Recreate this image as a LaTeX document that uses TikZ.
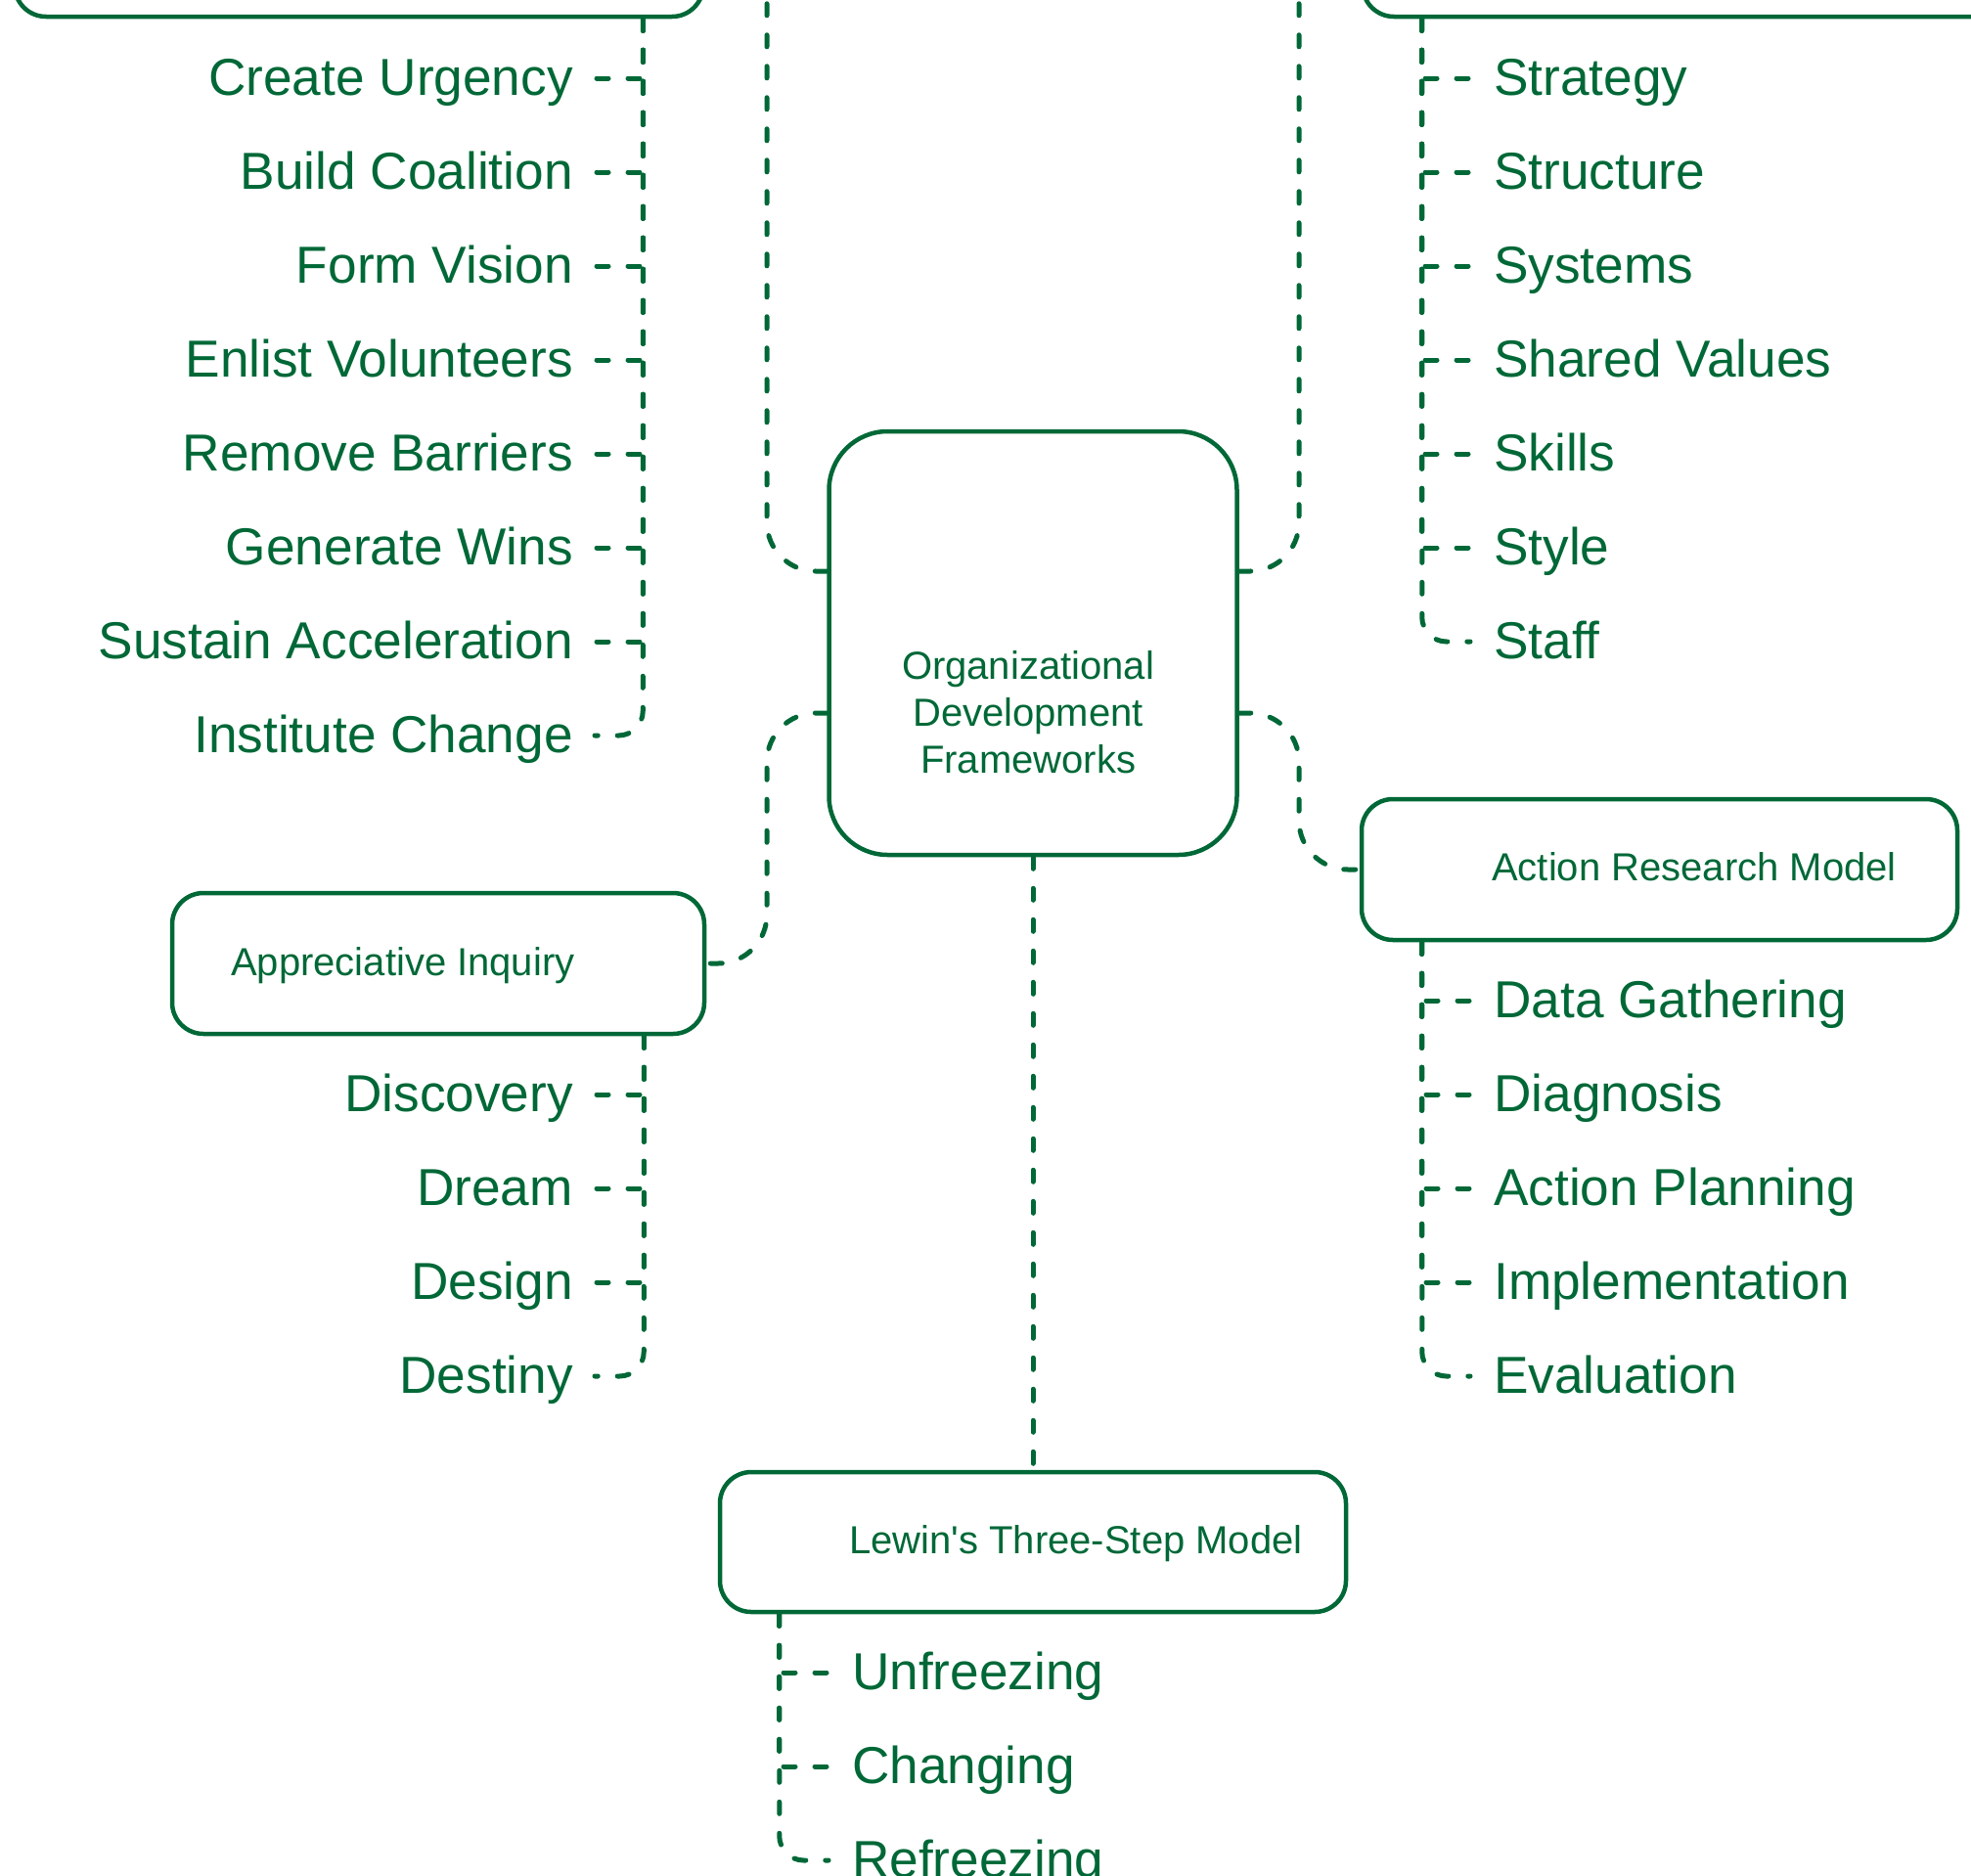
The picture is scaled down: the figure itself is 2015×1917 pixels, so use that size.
\documentclass[tikz,border=0pt]{standalone}
\usepackage{fontspec}
\setmainfont{Liberation Sans}[Ligatures=TeXOff]
\usetikzlibrary{calc}
\definecolor{og}{HTML}{006837}
\begin{document}
\begin{tikzpicture}[x=1pt,y=-1pt,
  box/.style={draw=og, line width=4.5pt, rounded corners=32pt, inner sep=0pt},
  conn/.style={draw=og, line width=5pt, line cap=round, dash pattern=on 12pt off 20pt},
  lastconn/.style={conn, rounded corners=25pt},
  rconn/.style={conn, rounded corners=50pt},
  itemL/.style={text=og, font=\fontsize{53.2}{64}\selectfont, inner sep=0pt, text height=38pt, text depth=0pt, anchor=east},
  itemR/.style={itemL, anchor=west},
  lab/.style={text=og, font=\fontsize{40}{48}\selectfont, inner sep=0pt, anchor=base west}]
\useasboundingbox (0,0) rectangle (2015,1917);
\clip (0,0) rectangle (2015,1917);

% boxes
\node[box, minimum width=704pt, minimum height=144pt] (kotter) at (367,-55) {};
\node[box, minimum width=707pt, minimum height=144pt] (ms) at (1746.5,-55) {};
\node[box, rounded corners=60pt, minimum width=417pt, minimum height=433pt] (root) at (1056,657.5) {};
\node[box, minimum width=544pt, minimum height=144pt] (ai) at (448,985) {};
\node[box, minimum width=609pt, minimum height=144pt] (ar) at (1696.5,889) {};
\node[box, minimum width=640pt, minimum height=143pt] (lw) at (1056,1576.5) {};

% labels
\node[text=og, font=\fontsize{40}{48}\selectfont, inner sep=0pt, align=center, anchor=north] (rootlab) at (1051,665) {Organizational\\Development\\Frameworks};
\node[lab] (ailab) at (236,997) {Appreciative Inquiry};
\node[lab] (arlab) at (1525,900) {Action Research Model};
\node[lab] (lwlab) at (868,1588) {Lewin's Three-Step Model};

% connectors from root
\draw[rconn] ([yshift=73.5pt]root.west) -- (784,584) -- (784,-55) -- (kotter.east);
\draw[rconn] ([yshift=73.5pt]root.east) -- (1328,584) -- (1328,-55) -- (ms.west);
\draw[rconn] ([yshift=-71.5pt]root.west) -- (784,729) -- (784,985) -- (ai.east);
\draw[rconn] ([yshift=-71.5pt]root.east) -- (1328,729) -- (1328,889) -- (ar.west);
\draw[conn] (root.south) -- (lw.north);

% child starts
\coordinate (kd) at ([xshift=-64pt]kotter.south east);
\coordinate (sd) at ([xshift=63pt]ms.south west);
\coordinate (ad) at ([xshift=-64pt]ai.south east);
\coordinate (rd) at ([xshift=64pt]ar.south west);
\coordinate (ld) at ([xshift=63pt]lw.south west);

% Kotter items
\foreach \t [count=\i] in {Create Urgency, Build Coalition, Form Vision, Enlist Volunteers, Remove Barriers, Generate Wins, Sustain Acceleration, Institute Change}
  \node[itemL] (k\i) at (586,{78+96*(\i-1)}) {\t};
\foreach \i in {1,...,7}
  \draw[conn] (kd) |- ([xshift=22pt,yshift=-2pt]k\i.east);
\draw[lastconn] (kd) |- ([xshift=22pt,yshift=-2pt]k8.east);

% 7S items
\foreach \t [count=\i] in {Strategy, Structure, Systems, Shared Values, Skills, Style, Staff}
  \node[itemR] (s\i) at (1527,{78+96*(\i-1)}) {\t};
\foreach \i in {1,...,6}
  \draw[conn] (sd) |- ([xshift=-24pt,yshift=-2pt]s\i.west);
\draw[lastconn] (sd) |- ([xshift=-24pt,yshift=-2pt]s7.west);

% Appreciative Inquiry items
\foreach \t [count=\i] in {Discovery, Dream, Design, Destiny}
  \node[itemL] (a\i) at (586,{1117+96*(\i-1)}) {\t};
\foreach \i in {1,...,3}
  \draw[conn] (ad) |- ([xshift=22pt,yshift=-2pt]a\i.east);
\draw[lastconn] (ad) |- ([xshift=22pt,yshift=-2pt]a4.east);

% Action Research items
\foreach \t [count=\i] in {Data Gathering, Diagnosis, Action Planning, Implementation, Evaluation}
  \node[itemR] (r\i) at (1527,{1021+96*(\i-1)}) {\t};
\foreach \i in {1,...,4}
  \draw[conn] (rd) |- ([xshift=-24pt,yshift=-2pt]r\i.west);
\draw[lastconn] (rd) |- ([xshift=-24pt,yshift=-2pt]r5.west);

% Lewin items
\foreach \t [count=\i] in {Unfreezing, Changing, Refreezing}
  \node[itemR] (l\i) at (871,{1708+96*(\i-1)}) {\t};
\foreach \i in {1,2}
  \draw[conn] (ld) |- ([xshift=-24pt,yshift=-2pt]l\i.west);
\draw[lastconn] (ld) |- ([xshift=-24pt,yshift=-2pt]l3.west);
\end{tikzpicture}
\end{document}
